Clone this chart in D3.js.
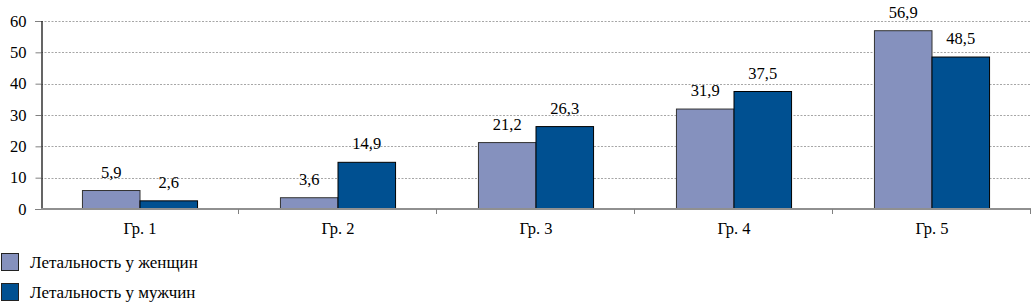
<!DOCTYPE html>
<html>
<head>
<meta charset="utf-8">
<script src="https://cdn.jsdelivr.net/npm/d3@7"></script>
<style>
  body { margin: 0; background: #fff; }
</style>
</head>
<body>
<div id="chart"></div>
<script>
const categories = ["Гр. 1", "Гр. 2", "Гр. 3", "Гр. 4", "Гр. 5"];
const seriesNames = ["Летальность у женщин", "Летальность у мужчин"];
const women = [5.9, 3.6, 21.2, 31.9, 56.9];
const men = [2.6, 14.9, 26.3, 37.5, 48.5];
const yTicks = [0, 10, 20, 30, 40, 50, 60];
const colors = ["#8591be", "#005091"];

const FONT = '"Liberation Serif", serif';
const W = 1033, H = 302;
const margin = {left: 41, right: 2, top: 21, bottom: 93};

const svg = d3.select("#chart").append("svg")
    .attr("width", W)
    .attr("height", H)
    .style("font-family", FONT);

const x = d3.scaleBand()
    .domain(categories)
    .range([margin.left, W - margin.right])
    .paddingInner(0)
    .paddingOuter(0);

const xs = d3.scaleBand()
    .domain([0, 1])
    .range([0, x.bandwidth()])
    .paddingOuter(0.72)
    .paddingInner(0);

const y = d3.scaleLinear()
    .domain([0, 60])
    .range([H - margin.bottom, margin.top]);

// gridlines
svg.append("g")
    .selectAll("line")
    .data(yTicks.filter(d => d > 0))
    .join("line")
    .attr("x1", margin.left)
    .attr("x2", W - margin.right)
    .attr("y1", d => Math.round(y(d)) + 0.5)
    .attr("y2", d => Math.round(y(d)) + 0.5)
    .attr("stroke", "#a6a6a6")
    .attr("stroke-dasharray", "2,1.5");

// y axis
const yAxis = svg.append("g")
    .attr("transform", `translate(${margin.left + 0.5},0)`)
    .call(d3.axisLeft(y).tickValues(yTicks).tickSize(6).tickPadding(9));
yAxis.attr("font-family", FONT).attr("font-size", 16);
yAxis.select(".domain").attr("stroke", "#000").attr("stroke-width", 1.2);
yAxis.selectAll(".tick line").attr("stroke", "#808080");
yAxis.selectAll(".tick text")
    .style("font-family", FONT)
    .style("font-size", "16.5px")
    .attr("fill", "#000");

// bars
const series = [women, men];
const groups = svg.append("g")
    .selectAll("g")
    .data(series)
    .join("g")
    .attr("fill", (d, i) => colors[i]);

groups.selectAll("rect")
    .data((d, i) => d.map((v, j) => ({v, j, s: i})))
    .join("rect")
    .attr("x", d => x(categories[d.j]) + xs(d.s))
    .attr("width", xs.bandwidth())
    .attr("y", d => y(d.v))
    .attr("height", d => y(0) - y(d.v))
    .attr("stroke", d => d.s === 0 ? "#333" : "#000")
    .attr("stroke-width", 1);

// value labels
groups.selectAll("text")
    .data((d, i) => d.map((v, j) => ({v, j, s: i})))
    .join("text")
    .attr("x", d => x(categories[d.j]) + xs(d.s) + xs.bandwidth() / 2)
    .attr("y", d => y(d.v) - 13)
    .attr("text-anchor", "middle")
    .attr("fill", "#000")
    .style("font-family", FONT)
    .style("font-size", "16.5px")
    .text(d => d3.format(".1f")(d.v).replace(".", ","));

// x axis
const xAxis = svg.append("g")
    .attr("transform", `translate(0,${y(0)})`);
xAxis.append("line")
    .attr("x1", margin.left)
    .attr("x2", W - margin.right)
    .attr("stroke", "#909090")
    .attr("stroke-width", 2);
xAxis.selectAll("line.tk")
    .data(categories)
    .join("line")
    .attr("class", "tk")
    .attr("x1", d => Math.round(x(d) + x.bandwidth()) - 0.5)
    .attr("x2", d => Math.round(x(d) + x.bandwidth()) - 0.5)
    .attr("y1", 0)
    .attr("y2", 5)
    .attr("stroke", "#808080");
xAxis.selectAll("text")
    .data(categories)
    .join("text")
    .attr("x", d => x(d) + x.bandwidth() / 2)
    .attr("y", 25)
    .attr("text-anchor", "middle")
    .attr("fill", "#000")
    .style("font-family", FONT)
    .style("font-size", "16.5px")
    .text(d => d);

// legend
const legend = svg.append("g")
    .selectAll("g")
    .data(seriesNames)
    .join("g")
    .attr("transform", (d, i) => `translate(1,${253 + i * 30})`);
legend.append("rect")
    .attr("x", 0.5)
    .attr("y", 0.5)
    .attr("width", 17)
    .attr("height", 17)
    .attr("fill", (d, i) => colors[i])
    .attr("stroke", "#222");
legend.append("text")
    .attr("x", 29)
    .attr("y", 15)
    .attr("fill", "#000")
    .style("font-family", FONT)
    .style("font-size", "17px")
    .text(d => d);
</script>
</body>
</html>
